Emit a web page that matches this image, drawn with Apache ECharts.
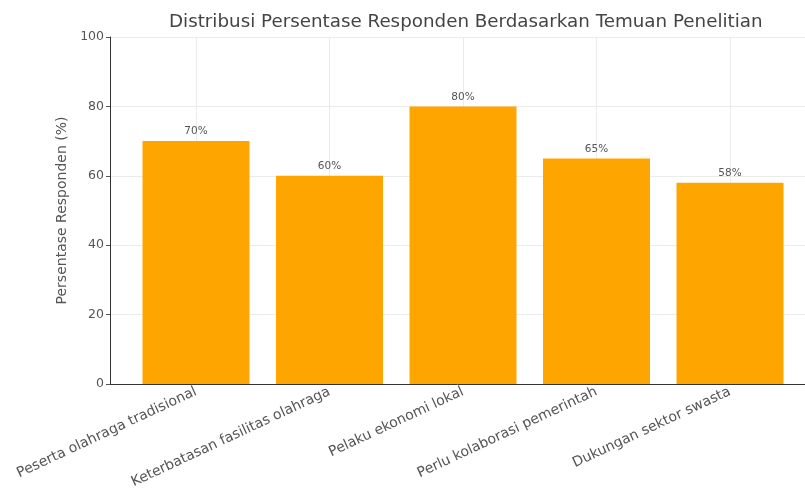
<!DOCTYPE html>
<html><head><meta charset="utf-8">
<script src="https://cdn.jsdelivr.net/npm/echarts@6/dist/echarts.min.js"></script>
<style>html,body{margin:0;padding:0;background:#fff}#c{width:805px;height:492px}</style>
</head><body><div id="c"></div>
<script>
var categories = ['Peserta olahraga tradisional','Keterbatasan fasilitas olahraga','Pelaku ekonomi lokal','Perlu kolaborasi pemerintah','Dukungan sektor swasta'];
var values = [70, 60, 80, 65, 58];
var titleText = 'Distribusi Persentase Responden Berdasarkan Temuan Penelitian';
var yName = 'Persentase Responden (%)';

var chart = echarts.init(document.getElementById('c'), null, {renderer:'canvas'});
chart.setOption({
  animation:false,
  textStyle:{fontFamily:'DejaVu Sans'},
  title:{text:titleText,left:164,top:8,textStyle:{fontSize:18.3,fontWeight:'normal',color:'#444',fontFamily:'DejaVu Sans'}},
  grid:[
    {left:110,right:-10,top:37,bottom:108},
    {left:196,right:75,top:37,bottom:108}
  ],
  xAxis:[
    {gridIndex:0,type:'value',min:0,max:1,axisLine:{show:true,lineStyle:{color:'#333',width:1}},axisTick:{show:false},axisLabel:{show:false},splitLine:{show:false}},
    {gridIndex:1,type:'category',data:categories,boundaryGap:false,
     axisLine:{show:false},
     axisTick:{show:true,inside:true,length:4,lineStyle:{color:'#555'}},
     axisLabel:{rotate:25,fontSize:14,color:'#555',margin:7,interval:0},
     splitLine:{show:true,lineStyle:{color:'#ebebeb',width:1}}}
  ],
  yAxis:[
    {gridIndex:0,type:'value',min:0,max:100,interval:20,
     name:yName,nameLocation:'middle',nameGap:36,nameTextStyle:{fontSize:14,color:'#555'},
     axisLine:{show:true,lineStyle:{color:'#333',width:1}},
     axisTick:{show:true,length:4,lineStyle:{color:'#555'}},
     axisLabel:{fontSize:12.5,color:'#555',margin:6},
     splitLine:{show:true,lineStyle:{color:'#ebebeb',width:1}}},
    {gridIndex:1,type:'value',min:0,max:100,show:false,splitLine:{show:false}}
  ],
  series:[{
    type:'bar',xAxisIndex:1,yAxisIndex:1,data:values,barWidth:107,
    itemStyle:{color:'#FFA500'},
    label:{show:true,position:'top',formatter:'{c}%',fontSize:10.5,color:'#555',distance:4}
  }]
});
</script></body></html>
